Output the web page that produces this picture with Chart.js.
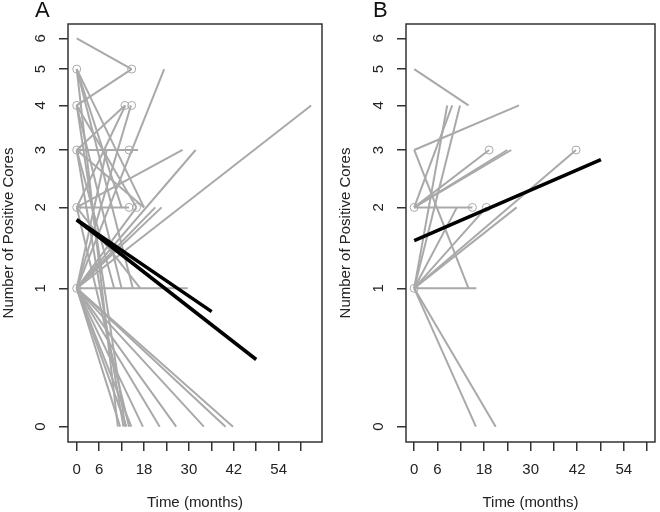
<!DOCTYPE html>
<html>
<head>
<meta charset="utf-8">
<script src="https://cdn.jsdelivr.net/npm/chart.js@4"></script>
<style>
body { margin: 0; background: #fff; }
#wrap { position: relative; width: 660px; height: 512px; }
.panel { position: absolute; top: 0; width: 330px; height: 512px; }
.tag { position: absolute; top: -3px; font: 22px "Liberation Sans", Arial, sans-serif; color: #111; }
</style>
</head>
<body>
<div id="wrap">
  <div class="panel" style="left:0"><canvas id="graphA" width="330" height="512"></canvas></div>
  <div class="panel" style="left:330px"><canvas id="graphB" width="330" height="512"></canvas></div>
  <div class="tag" style="left:35px">A</div>
  <div class="tag" style="left:373px">B</div>
</div>
<script>
// axis ticks
const monthTicks = [0, 6, 12, 18, 24, 30, 36, 42, 48, 54, 60];
const monthLabels = [0, 6, 18, 30, 42, 54];
const coreTicks = [0, 1, 2, 3, 4, 5, 6];

// panel A: one patient per row [start month, start cores, end month, end cores]
const segmentsA = [
  [0, 6, 14.7, 5], [0, 4, 14.7, 5], [0, 5, 12, 2], [0, 5, 15, 1],
  [0, 5, 18, 2], [0, 5, 11, 0], [0, 4, 12, 1], [0, 4, 16, 2],
  [0, 4, 13, 0], [0, 3, 16.4, 3], [0, 3, 18, 2], [0, 3, 12.5, 0],
  [0, 3, 12.9, 4], [0, 2, 13, 4], [0, 1, 14.5, 4], [0, 2, 14, 2],
  [0, 2, 28.3, 3], [0, 2, 14, 0], [0, 1, 23.4, 5], [0, 1, 62.7, 4],
  [0, 1, 31.8, 3], [0, 1, 29.7, 1], [0, 1, 16, 2], [0, 1, 21, 2],
  [0, 1, 22.7, 2], [0, 1, 11.6, 0], [0, 1, 13.3, 0], [0, 1, 14.6, 0],
  [0, 1, 17.7, 0], [0, 1, 22.2, 0], [0, 1, 26.6, 0], [0, 1, 34, 0],
  [0, 1, 39.8, 0], [0, 1, 41.8, 0], [0, 1, 8, 3], [0, 3, 10, 1],
  [0, 2, 17, 1]
];
const circlesA = [
  [0, 5], [14.7, 5], [0, 4], [12.9, 4], [14.7, 4], [0, 3], [14, 3],
  [0, 2], [14, 2], [16, 2], [0, 1]
];
const fitsA = [[0, 1.82, 36.1, 0.78], [0, 1.82, 48, 0.40]];

// panel B
const segmentsB = [
  [0, 5, 14, 4], [0, 3, 27, 4], [0, 1, 8.5, 4], [0, 1, 11.8, 4],
  [0, 2, 9.8, 4], [0, 3, 14, 1], [0, 1, 16, 1], [0, 2, 19.3, 3],
  [0, 2, 24, 3], [0, 2, 25, 3], [0, 2, 15, 2], [0, 1, 41.7, 3],
  [0, 1, 18.6, 2], [0, 1, 26.4, 2], [0, 1, 11, 2], [0, 1, 15.9, 0],
  [0, 1, 21, 0]
];
const circlesB = [[0, 2], [0, 1], [19.3, 3], [41.7, 3], [15, 2], [18.6, 2]];
const fitsB = [[0, 1.54, 48.1, 2.81]];

const GRAY = "#a9a9a9";
const FONT = "'Liberation Sans', Arial, sans-serif";
Chart.defaults.font.family = FONT;
Chart.defaults.color = "#222";

const boxPlugin = {
  id: "box",
  afterDraw(chart) {
    const { ctx, chartArea: a } = chart;
    ctx.save();
    ctx.strokeStyle = "#333";
    ctx.lineWidth = 1.5;
    ctx.strokeRect(a.left, a.top, a.right - a.left, a.bottom - a.top);
    ctx.restore();
  }
};

function buildChart(id, segments, circles, fits, xMin, xMax, yWidth, rightPad, titlePad) {
  let datasets = [];
  fits.forEach(f => {
    datasets.push({
      data: [{ x: f[0], y: f[1] + 1 }, { x: f[2], y: f[3] + 1 }],
      showLine: true, borderColor: "#000", borderWidth: 3.5, pointRadius: 0
    });
  });
  datasets.push({
    data: circles.map(c => ({ x: c[0], y: c[1] + 1 })),
    showLine: false, pointRadius: 4, pointBorderWidth: 1,
    pointBorderColor: GRAY, pointBackgroundColor: "rgba(0,0,0,0)"
  });
  segments.forEach(s => {
    datasets.push({
      data: [{ x: s[0], y: s[1] + 1 }, { x: s[2], y: s[3] + 1 }],
      showLine: true, borderColor: GRAY, borderWidth: 2, pointRadius: 0
    });
  });

  new Chart(document.getElementById(id).getContext("2d"), {
    type: "scatter",
    data: { datasets: datasets },
    plugins: [boxPlugin],
    options: {
      responsive: false,
      animation: false,
      layout: { padding: { top: 24, right: rightPad, left: 0, bottom: 0 } },
      plugins: { legend: { display: false }, tooltip: { enabled: false } },
      scales: {
        x: {
          type: "linear",
          min: xMin,
          max: xMax,
          bounds: "data",
          afterBuildTicks: s => { s.ticks = monthTicks.map(v => ({ value: v })); },
          afterFit: s => { s.height = 70; },
          border: { display: false },
          grid: { drawOnChartArea: false, drawTicks: true, tickLength: 9, color: "#333", lineWidth: 1.5 },
          ticks: {
            autoSkip: false, maxRotation: 0, minRotation: 0, padding: 10,
            font: { size: 15 },
            callback: v => monthLabels.includes(v) ? String(v) : ""
          },
          title: { display: true, text: "Time (months)", font: { size: 15 }, padding: { top: 0, bottom: 0 } }
        },
        y: {
          type: "logarithmic",
          min: 0.926,
          max: 7.52,
          bounds: "data",
          afterBuildTicks: s => { s.ticks = coreTicks.map(c => ({ value: c + 1 })); },
          afterFit: s => { s.width = yWidth; },
          border: { display: false },
          grid: { drawOnChartArea: false, drawTicks: true, tickLength: 9, color: "#333", lineWidth: 1.5 },
          ticks: {
            autoSkip: false, minRotation: 90, maxRotation: 90, crossAlign: "center", padding: 14,
            font: { size: 15 },
            callback: v => String(Math.round(v - 1))
          },
          title: { display: true, text: "Number of Positive Cores", font: { size: 15 }, padding: { top: titlePad, bottom: 0 } }
        }
      }
    }
  });
}

buildChart("graphA", segmentsA, circlesA, fitsA, -2.33, 65.6, 68, 8, 0);
buildChart("graphB", segmentsB, circlesB, fitsB, -2.11, 62.04, 76, 2, 7);
</script>
</body>
</html>
